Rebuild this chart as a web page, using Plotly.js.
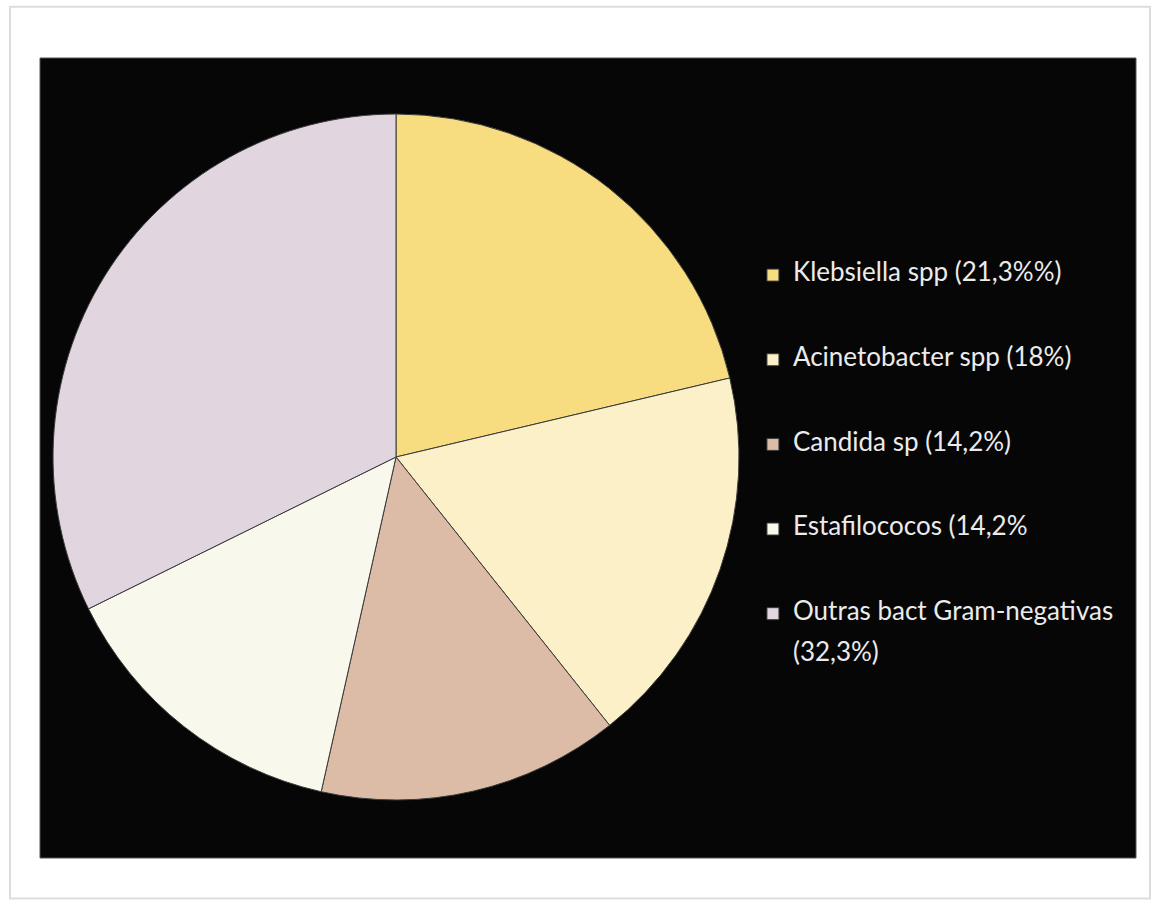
<!DOCTYPE html>
<html>
<head>
<meta charset="utf-8">
<script src="https://cdn.plot.ly/plotly-3.0.1.min.js"></script>
<style>html,body{margin:0;padding:0;background:#fff;}#chart{width:1156px;height:903px;}</style>
</head>
<body>
<div id="chart"></div>
<script>
const categories = ["Klebsiella spp (21,3%%)", "Acinetobacter spp (18%)", "Candida sp (14,2%)", "Estafilococos (14,2%", "Outras bact Gram-negativas", "(32,3%)"];
const labelLines = [[0], [1], [2], [3], [4, 5]];
const values = [21.3, 18, 14.2, 14.2, 32.3];
const colors = ["#f8dd80", "#fbf0c8", "#dcbca7", "#f8f8ec", "#e1d5df"];

const big = s => "<span style='font-size:26px'>" + s + "</span>";
const legendLabels = labelLines.map((idx, i) => {
  let lines;
  if (idx.length === 1) lines = [big(categories[idx[0]]), " ", " ", " "];
  else lines = [big(categories[idx[0]]), " ", big(categories[idx[1]])];
  return lines.join("<br>");
});

const trace = {
  type: "pie",
  labels: legendLabels,
  values: values,
  sort: false,
  direction: "clockwise",
  rotation: 0,
  textinfo: "none",
  hoverinfo: "label+value",
  marker: { colors: colors, line: { color: "#3a3a3a", width: 1 } },
  domain: { x: [0.01186, 0.6378], y: [0.0725, 0.93] }
};

const layout = {
  width: 1156, height: 903,
  margin: { l: 40, r: 20, t: 58, b: 45 },
  paper_bgcolor: "#ffffff",
  font: { family: "Lato, 'Open Sans', sans-serif", size: 15.7, color: "#ebebeb" },
  showlegend: true,
  legend: {
    x: 0.6505, y: 0.7495, xanchor: "left", yanchor: "top",
    valign: "top",
    bgcolor: "rgba(0,0,0,0)",
    font: { family: "Lato, 'Open Sans', sans-serif", size: 15.7, color: "#ebebeb" }
  },
  shapes: [
    { type: "rect", xref: "paper", yref: "paper", x0: 0, x1: 1, y0: 0, y1: 1, layer: "below",
      fillcolor: "#060606", line: { color: "#555", width: 1 } },
    { type: "rect", xref: "paper", yref: "paper", x0: -0.0274, x1: 1.0128, y0: -0.0506, y1: 1.064, layer: "below",
      fillcolor: "rgba(0,0,0,0)", line: { color: "#dddddd", width: 2 } }
  ]
};

Plotly.newPlot("chart", [trace], layout, { displayModeBar: false, staticPlot: true });
</script>
</body>
</html>
